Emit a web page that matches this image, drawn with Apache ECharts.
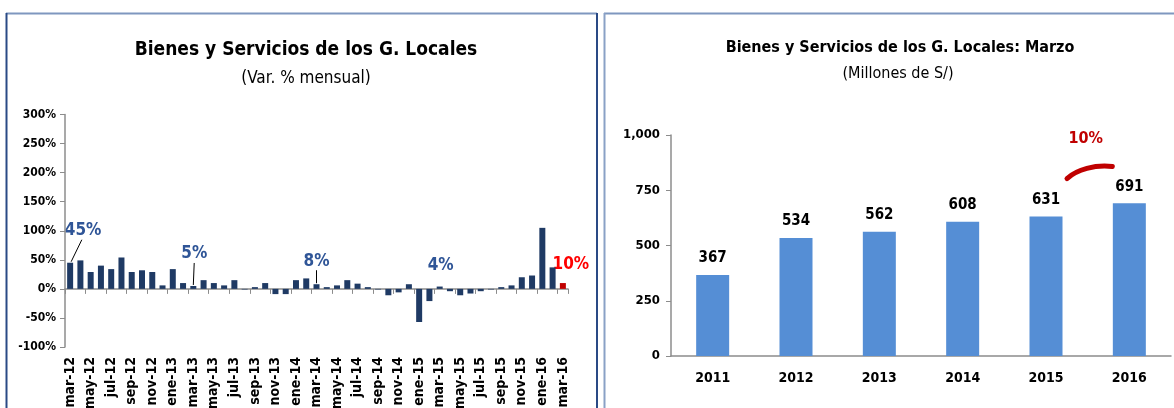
<!DOCTYPE html>
<html>
<head>
<meta charset="utf-8">
<script src="https://cdn.jsdelivr.net/npm/echarts@6/dist/echarts.min.js"></script>
<style>
  html, body { margin:0; padding:0; background:#fff; }
  #main { width:1174px; height:408px; }
</style>
</head>
<body>
<div id="main"></div>
<script>
// datos: variacion % mensual
var meses = ['mar-12','abr-12','may-12','jun-12','jul-12','ago-12','sep-12','oct-12','nov-12','dic-12',
  'ene-13','feb-13','mar-13','abr-13','may-13','jun-13','jul-13','ago-13','sep-13','oct-13','nov-13','dic-13',
  'ene-14','feb-14','mar-14','abr-14','may-14','jun-14','jul-14','ago-14','sep-14','oct-14','nov-14','dic-14',
  'ene-15','feb-15','mar-15','abr-15','may-15','jun-15','jul-15','ago-15','sep-15','oct-15','nov-15','dic-15',
  'ene-16','feb-16','mar-16'];
var varMensual = [45,49,29,40,34,54,29,32,29,6,
  34,10,5,15,10,6,15,-1,3,10,-9,-9,
  15,18,8,3,6,15,9,3,-1,-11,-6,8,
  -57,-21,4,-4,-11,-8,-4,-1,3,6,20,23,
  105,37,10];
// etiquetas destacadas (mes, texto)
var destacados = [['mar-12','45%'],['mar-13','5%'],['mar-14','8%'],['mar-15','4%'],['mar-16','10%']];

// datos: marzo de cada año (millones de S/)
var anios = ['2011','2012','2013','2014','2015','2016'];
var marzo = [367,534,562,608,631,691];
var crecimiento = '10%';

var FONT = '"Liberation Sans Narrow", "DejaVu Sans Condensed", Arial, sans-serif';
var AXIS_GRAY = '#8c8c8c';

var barData = varMensual.map(function(v, i){
  if(i == varMensual.length - 1) return {value:v, itemStyle:{color:'#C00000'}};
  return v;
});

var chart = echarts.init(document.getElementById('main'));
var option = {
  animation:false,
  textStyle:{fontFamily:FONT},
  title:[
    {text:'Bienes y Servicios de los G. Locales', left:301, top:36, textAlign:'center',
     textStyle:{fontFamily:FONT, fontSize:19, fontWeight:'bold', color:'#000'}},
    {text:'(Var. % mensual)', left:301, top:65, textAlign:'center',
     textStyle:{fontFamily:FONT, fontSize:17, fontWeight:'normal', color:'#000'}},
    {text:'Bienes y Servicios de los G. Locales: Marzo', left:895, top:35, textAlign:'center',
     textStyle:{fontFamily:FONT, fontSize:16, fontWeight:'bold', color:'#000'}},
    {text:'(Millones de S/)', left:893, top:61, textAlign:'center',
     textStyle:{fontFamily:FONT, fontSize:16, fontWeight:'normal', color:'#000'}}
  ],
  grid:[
    {left:65, top:114.5, width:503, height:232.5, outerBoundsMode:'none', containLabel:false},
    {left:671, top:135, width:500, height:221, outerBoundsMode:'none', containLabel:false}
  ],
  xAxis:[
    { // etiquetas abajo
      type:'category', gridIndex:0, data:meses, position:'bottom',
      axisLine:{show:false, onZero:false}, axisTick:{show:false},
      axisLabel:{interval:1, rotate:90, margin:10, fontFamily:FONT, fontSize:14, fontWeight:'bold', color:'#000'}
    },
    { // linea en cero
      type:'category', gridIndex:0, data:meses, position:'bottom',
      axisLine:{show:true, onZero:true, lineStyle:{color:AXIS_GRAY, width:1.5}},
      axisTick:{show:true, interval:1, length:5, lineStyle:{color:AXIS_GRAY}},
      axisLabel:{show:false}
    },
    {
      type:'category', gridIndex:1, data:anios,
      axisLine:{lineStyle:{color:AXIS_GRAY, width:1.5}},
      axisTick:{length:5, lineStyle:{color:AXIS_GRAY}},
      axisLabel:{margin:15, fontFamily:FONT, fontSize:14, fontWeight:'bold', color:'#000'}
    }
  ],
  yAxis:[
    {
      type:'value', gridIndex:0, min:-100, max:300, interval:50,
      axisLine:{show:true, lineStyle:{color:AXIS_GRAY, width:1.5}},
      axisTick:{show:true, length:5, lineStyle:{color:AXIS_GRAY}},
      splitLine:{show:false},
      axisLabel:{margin:9, formatter:'{value}%', fontFamily:FONT, fontSize:12, fontWeight:'bold', color:'#000'}
    },
    {
      type:'value', gridIndex:1, min:0, max:1000, interval:250,
      axisLine:{show:true, lineStyle:{color:AXIS_GRAY, width:1.5}},
      axisTick:{show:true, length:5, lineStyle:{color:AXIS_GRAY}},
      splitLine:{show:false},
      axisLabel:{margin:11, fontFamily:FONT, fontSize:13, fontWeight:'bold', color:'#000',
        formatter:function(v){ return v.toLocaleString('en-US'); }}
    }
  ],
  series:[
    {
      type:'bar', xAxisIndex:1, yAxisIndex:0, data:barData, barWidth:6,
      itemStyle:{color:'#1F3A64'}
    },
    {
      type:'bar', xAxisIndex:2, yAxisIndex:1, data:marzo, barWidth:33,
      itemStyle:{color:'#558ED5'},
      label:{show:true, position:'top', distance:9, fontFamily:FONT, fontSize:15, fontWeight:'bold', color:'#000'}
    }
  ]
};
chart.setOption(option);

// anotaciones y marcos
var g = [];
// marcos de los paneles
g.push({type:'line', shape:{x1:6, y1:13.5, x2:597, y2:13.5}, style:{stroke:'#7f97bf', lineWidth:2}});
g.push({type:'line', shape:{x1:6.5, y1:13, x2:6.5, y2:420}, style:{stroke:'#2a4a85', lineWidth:2}});
g.push({type:'line', shape:{x1:597, y1:13, x2:597, y2:420}, style:{stroke:'#2a4a85', lineWidth:2}});
g.push({type:'line', shape:{x1:604, y1:13.5, x2:1180, y2:13.5}, style:{stroke:'#7f97bf', lineWidth:2}});
g.push({type:'line', shape:{x1:604.5, y1:13, x2:604.5, y2:420}, style:{stroke:'#8aa1c6', lineWidth:2}});

// etiquetas del grafico mensual
var desplaz = {'45%':[13,-32,true], '5%':[1,-32,true], '8%':[0,-23,true], '4%':[1,-21,false], '10%':[8,-18,false]};
destacados.forEach(function(d){
  var idx = meses.indexOf(d[0]);
  var p = chart.convertToPixel({xAxisIndex:1, yAxisIndex:0}, [d[0], varMensual[idx]]);
  var o = desplaz[d[1]];
  var rojo = d[0] == 'mar-16';
  g.push({type:'text', x:p[0]+o[0], y:p[1]+o[1],
    style:{text:d[1], fill:rojo ? '#FF0000' : '#2F5597', font:'bold 17px ' + FONT, align:'center', verticalAlign:'middle'}});
  if(o[2]){
    g.push({type:'line', shape:{x1:p[0]+(d[1]=='45%'?1:0), y1:p[1]-1, x2:p[0]+o[0]*0.9, y2:p[1]+o[1]+9},
      style:{stroke:'#000', lineWidth:1}});
  }
});

// arco de crecimiento 2015-2016
var p15 = chart.convertToPixel({xAxisIndex:2, yAxisIndex:1}, [anios[4], marzo[4]]);
var p16 = chart.convertToPixel({xAxisIndex:2, yAxisIndex:1}, [anios[5], marzo[5]]);
var x1 = p15[0] + 21, y1 = p15[1] - 38, x2 = p16[0] - 17, y2 = y1 - 12;
g.push({type:'bezierCurve', shape:{x1:x1, y1:y1, cpx1:x1+10, cpy1:y1-9, cpx2:x1+28, cpy2:y2-2, x2:x2, y2:y2},
  style:{stroke:'#C00000', lineWidth:5, lineCap:'round', fill:null}});
g.push({type:'text', x:(p15[0]+p16[0])/2 - 2, y:y1 - 40,
  style:{text:crecimiento, fill:'#C00000', font:'bold 16px ' + FONT, align:'center', verticalAlign:'middle'}});

chart.setOption({graphic:{elements:g}});
</script>
</body>
</html>
